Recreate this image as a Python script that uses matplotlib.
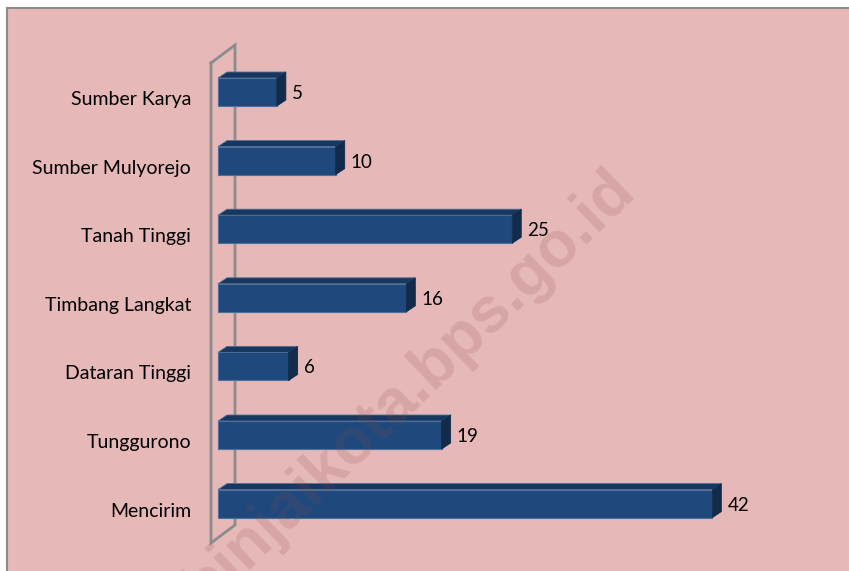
import matplotlib
matplotlib.use("Agg")
import matplotlib.pyplot as plt
from matplotlib.patches import Polygon, Rectangle

# data (top to bottom as in the chart)
villages = ["Sumber Karya", "Sumber Mulyorejo", "Tanah Tinggi", "Timbang Langkat",
            "Dataran Tinggi", "Tunggurono", "Mencirim"]
counts = [5, 10, 25, 16, 6, 19, 42]

W, H = 849, 571
bg = "#e6b8b7"
front = "#1f497d"
top_c = "#17375e"
side_c = "#122b4a"
edge_c = "#4f6f9a"

# pixel layout of the plot
x0_px = 218          # where value 0 sits
px_per_unit = 11.77
y0_px = 92           # centre of first bar
px_per_cat = 68.6

fig = plt.figure(figsize=(W / 100, H / 100), dpi=100)
fig.patch.set_facecolor("white")
fig.patches.append(Rectangle((6.5 / W, -0.1), 1.0, (H - 7.5) / H + 0.1,
                             transform=fig.transFigure, facecolor=bg,
                             edgecolor="#8c8c8c", lw=1.5, zorder=-5))

ax_l, ax_r, ax_t, ax_b = 195, W, 25, H
ax = fig.add_axes([ax_l / W, 0, (ax_r - ax_l) / W, (ax_b - ax_t) / H])
ax.set_xlim((ax_l - x0_px) / px_per_unit, (ax_r - x0_px) / px_per_unit)
ax.set_ylim((ax_b - y0_px) / px_per_cat, (ax_t - y0_px) / px_per_cat)
ax.axis("off")
ax.patch.set_alpha(0)

ypos = list(range(len(villages)))
bh = 28 / px_per_cat
ddx = 9 / px_per_unit
ddy = -6 / px_per_cat

# back wall
wx = -7 / px_per_unit
wt = (63 - y0_px) / px_per_cat
wb = (543 - y0_px) / px_per_cat
wdx = 24 / px_per_unit
wdy = -18 / px_per_cat
ax.plot([wx, wx, wx + wdx, wx + wdx, wx], [wt, wb, wb + wdy, wt + wdy, wt],
        color="#8c8c8c", lw=2, zorder=1, clip_on=False, solid_joinstyle="miter")

ax.barh(ypos, counts, height=bh, left=0, color=front, edgecolor=edge_c,
        linewidth=0.8, zorder=3)
for y, v in zip(ypos, counts):
    yt = y - bh / 2
    yb = y + bh / 2
    ax.add_patch(Polygon([(0, yt), (v, yt), (v + ddx, yt + ddy), (ddx, yt + ddy)],
                         closed=True, facecolor=top_c, edgecolor=edge_c,
                         lw=0.6, zorder=3))
    ax.add_patch(Polygon([(v, yt), (v + ddx, yt + ddy), (v + ddx, yb + ddy), (v, yb)],
                         closed=True, facecolor=side_c, edgecolor=side_c,
                         lw=0.6, zorder=3))
    ax.text(v + ddx + 6 / px_per_unit, y + 7 / px_per_cat, str(v), ha="left",
            va="baseline", fontsize=13.5, family="Lato", color="black")

for y, name in zip(ypos, villages):
    ax.text(-27 / px_per_unit, y + 13 / px_per_cat, name, ha="right", va="baseline",
            fontsize=14, family="Lato", color="black", clip_on=False)

# watermark
fig.text(410 / W, 1 - 388 / H, "binjaikota.bps.go.id", rotation=44,
         ha="center", va="center", rotation_mode="anchor", fontsize=46,
         fontweight="bold", family="Liberation Sans", color="#8a4a44",
         alpha=0.16, zorder=10)

fig.savefig("out.png", dpi=100, facecolor=fig.get_facecolor())
